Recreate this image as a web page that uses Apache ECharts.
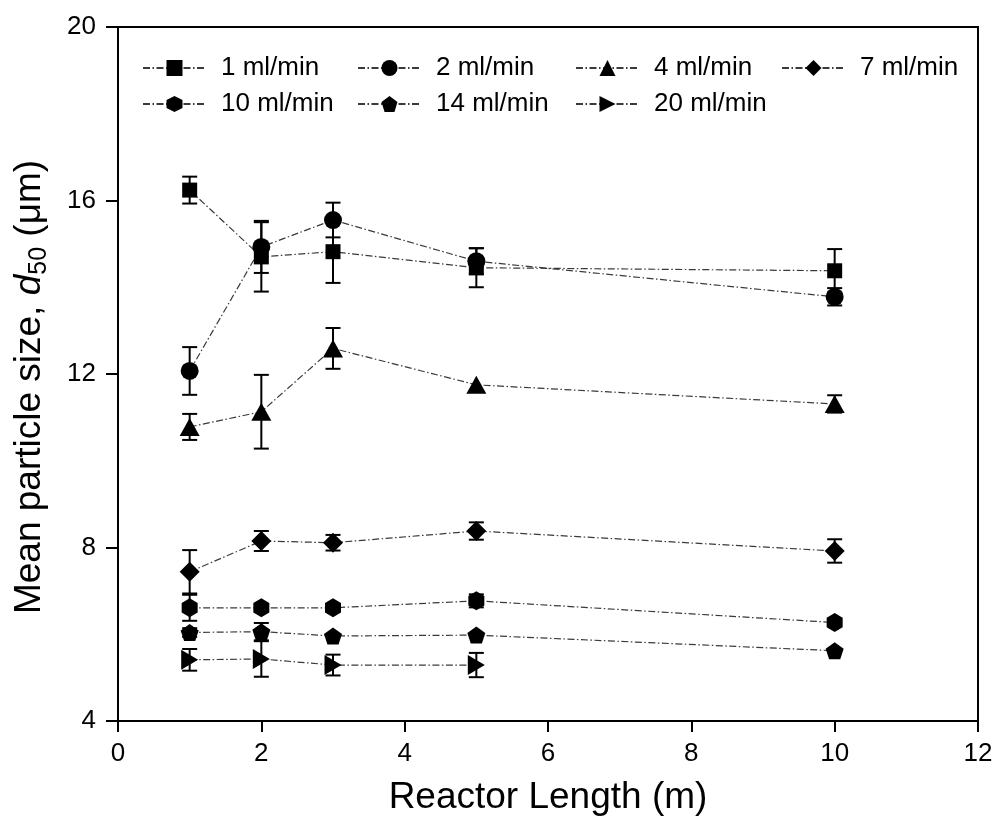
<!DOCTYPE html>
<html>
<head>
<meta charset="utf-8">
<script src="https://cdn.jsdelivr.net/npm/echarts@6/dist/echarts.min.js"></script>
<style>html,body{margin:0;padding:0;background:#fff;}#c{width:999px;height:833px;}</style>
</head>
<body>
<div id="c"></div>
<script>
const lengths = [1, 2, 3, 5, 10];
const lengths20 = [1, 2, 3, 5];
const names = ['1 ml/min', '2 ml/min', '4 ml/min', '7 ml/min', '10 ml/min', '14 ml/min', '20 ml/min'];
const d1 = [16.24, 14.70, 14.82, 14.45, 14.38];
const e1 = [0.31, 0.80, 0.72, 0.45, 0.50];
const d2 = [12.07, 14.93, 15.55, 14.60, 13.78];
const e2 = [0.55, 0.60, 0.40, 0.30, 0.20];
const d4 = [10.78, 11.13, 12.59, 11.75, 11.31];
const e4 = [0.30, 0.85, 0.47, 0, 0.20];
const d7 = [7.44, 8.15, 8.11, 8.38, 7.92];
const e7 = [0.50, 0.23, 0.18, 0.20, 0.27];
const d10 = [6.61, 6.61, 6.61, 6.77, 6.27];
const e10 = [0.30, 0, 0, 0.15, 0];
const d14 = [6.04, 6.06, 5.96, 5.98, 5.62];
const e14 = [0.10, 0.20, 0, 0, 0];
const d20 = [5.41, 5.43, 5.29, 5.29];
const e20 = [0.25, 0.41, 0.24, 0.28];
const xTicks = [0, 2, 4, 6, 8, 10, 12];
const yTicks = [4, 8, 12, 16, 20];

const FONT = 'Liberation Sans, Arial, Helvetica, sans-serif';
const HEX = 'path://M0,-1 L0.866,-0.5 L0.866,0.5 L0,1 L-0.866,0.5 L-0.866,-0.5 Z';
const PENT = 'path://M0,-1 L0.951,-0.309 L0.588,0.809 L-0.588,0.809 L-0.951,-0.309 Z';
const RTRI = 'path://M0,0 L1,0.5 L0,1 Z';

const seriesDefs = [
  {name: names[0], xs: lengths, ys: d1, es: e1, symbol: 'rect', size: [15, 15]},
  {name: names[1], xs: lengths, ys: d2, es: e2, symbol: 'circle', size: 18},
  {name: names[2], xs: lengths, ys: d4, es: e4, symbol: 'triangle', size: [20, 18]},
  {name: names[3], xs: lengths, ys: d7, es: e7, symbol: 'diamond', size: [20, 20]},
  {name: names[4], xs: lengths, ys: d10, es: e10, symbol: HEX, size: [16, 19]},
  {name: names[5], xs: lengths, ys: d14, es: e14, symbol: PENT, size: [18, 17]},
  {name: names[6], xs: lengths20, ys: d20, es: e20, symbol: RTRI, size: [17, 20]}
];

const series = [];
seriesDefs.forEach(function (s) {
  series.push({
    type: 'custom',
    name: s.name + ' err',
    silent: true,
    z: 2,
    encode: {x: 0, y: 1},
    data: s.xs.map(function (x, i) { return [x, s.ys[i], s.es[i]]; }).filter(function (d) { return d[2] > 0; }),
    renderItem: function (params, api) {
      const x = api.value(0), y = api.value(1), e = api.value(2);
      const t = api.coord([x, y + e]), b = api.coord([x, y - e]);
      const w = 7.5;
      const st = {stroke: '#000', lineWidth: 2};
      return {type: 'group', children: [
        {type: 'line', shape: {x1: t[0], y1: t[1], x2: b[0], y2: b[1]}, style: st},
        {type: 'line', shape: {x1: t[0] - w, y1: t[1], x2: t[0] + w, y2: t[1]}, style: st},
        {type: 'line', shape: {x1: b[0] - w, y1: b[1], x2: b[0] + w, y2: b[1]}, style: st}
      ]};
    }
  });
  series.push({
    type: 'line',
    name: s.name,
    z: 3,
    data: s.xs.map(function (x, i) { return [x, s.ys[i]]; }),
    symbol: s.symbol,
    symbolSize: s.size,
    showAllSymbol: true,
    itemStyle: {color: '#000', borderWidth: 0},
    lineStyle: {color: '#3a3a3a', width: 1.2, type: [7, 2.5, 1.5, 2.5]}
  });
});

const legendPos = [
  [142, 55], [357, 55], [575, 55], [781, 55],
  [142, 91], [357, 91], [575, 91]
];
const legends = names.map(function (n, i) {
  return {
    data: [n],
    left: legendPos[i][0],
    top: legendPos[i][1],
    padding: 0,
    itemWidth: 63,
    itemHeight: 20,
    selectedMode: false,
    textStyle: {fontFamily: FONT, fontSize: 26, color: '#000', padding: [0, 0, 0, 10]}
  };
});

const option = {
  animation: false,
  backgroundColor: '#fff',
  grid: {left: 118, right: 21, top: 27, bottom: 112, show: true, borderColor: '#000', borderWidth: 2, containLabel: false, outerBoundsMode: 'none'},
  legend: legends,
  xAxis: {
    type: 'value', min: xTicks[0], max: xTicks[xTicks.length - 1], interval: 2,
    name: 'Reactor Length (m)', nameLocation: 'middle', nameGap: 58,
    nameTextStyle: {fontFamily: FONT, fontSize: 37, color: '#000'},
    axisLine: {show: true, lineStyle: {color: '#000', width: 2}},
    axisTick: {show: true, length: 11, lineStyle: {color: '#000', width: 2}},
    axisLabel: {fontFamily: FONT, fontSize: 26, color: '#000', margin: 20},
    splitLine: {show: false}
  },
  yAxis: {
    type: 'value', min: yTicks[0], max: yTicks[yTicks.length - 1], interval: 4,
    name: '{a|Mean particle size, }{i|d}{s|50}{a| (μm)}', nameLocation: 'middle', nameGap: 66,
    nameTextStyle: {
      fontFamily: FONT, fontSize: 37, color: '#000', padding: [0, 26, 0, 0],
      rich: {
        a: {fontFamily: FONT, fontSize: 37, color: '#000', lineHeight: 44},
        i: {fontFamily: FONT, fontSize: 37, color: '#000', fontStyle: 'italic', lineHeight: 44},
        s: {fontFamily: FONT, fontSize: 25, color: '#000', lineHeight: 25, verticalAlign: 'bottom'}
      }
    },
    axisLine: {show: true, lineStyle: {color: '#000', width: 2}},
    axisTick: {show: true, length: 12, lineStyle: {color: '#000', width: 2}},
    axisLabel: {fontFamily: FONT, fontSize: 26, color: '#000', margin: 22},
    splitLine: {show: false}
  },
  series: series
};

const chart = echarts.init(document.getElementById('c'), null, {renderer: 'canvas'});
chart.setOption(option);
</script>
</body>
</html>
